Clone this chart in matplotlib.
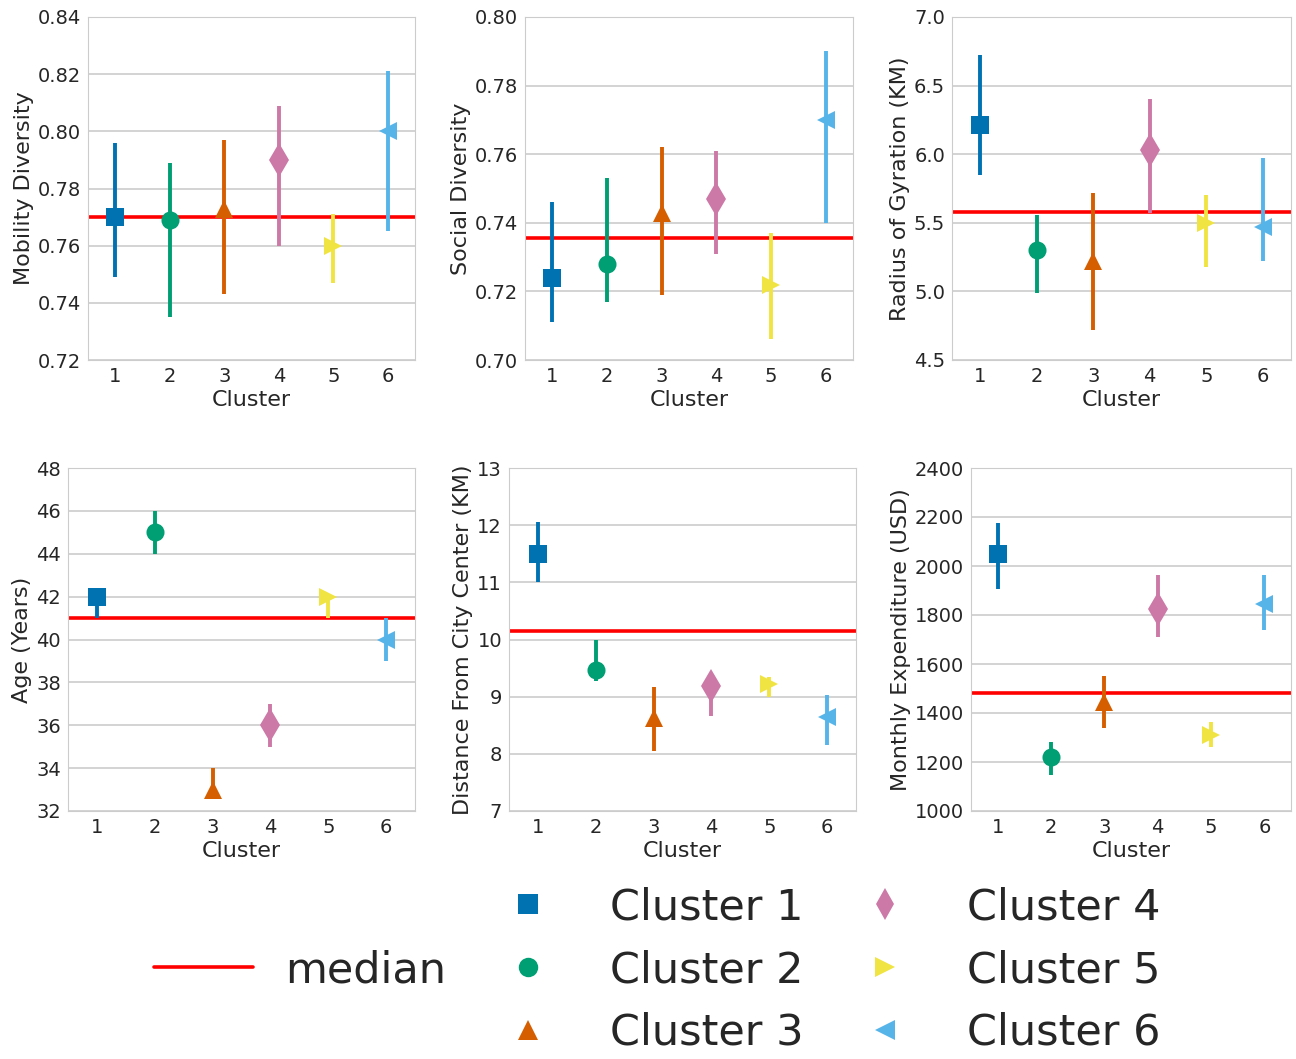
import matplotlib
matplotlib.use("Agg")
import matplotlib.pyplot as plt
from matplotlib.lines import Line2D
import seaborn as sns

sns.set_style("whitegrid")
plt.rcParams["font.family"] = ["DejaVu Sans"]

clusters = [1, 2, 3, 4, 5, 6]
colors = ["#0072B2", "#009E73", "#D55E00", "#CC79A7", "#F0E442", "#56B4E9"]
markers = ["s", "o", "^", "d", ">", "<"]
msizes = [13, 13, 13, 17, 13, 13]

# per panel: label, ylim, yticks, median, means, lower ci, upper ci
mob_mean = [0.770, 0.769, 0.773, 0.790, 0.760, 0.800]
mob_lo = [0.749, 0.735, 0.743, 0.760, 0.747, 0.765]
mob_hi = [0.796, 0.789, 0.797, 0.809, 0.771, 0.821]

soc_mean = [0.724, 0.728, 0.743, 0.747, 0.722, 0.770]
soc_lo = [0.711, 0.717, 0.719, 0.731, 0.706, 0.740]
soc_hi = [0.746, 0.753, 0.762, 0.761, 0.737, 0.790]

rog_mean = [6.21, 5.30, 5.22, 6.03, 5.50, 5.47]
rog_lo = [5.85, 4.99, 4.72, 5.57, 5.18, 5.22]
rog_hi = [6.72, 5.56, 5.72, 6.40, 5.70, 5.97]

age_mean = [42.0, 45.0, 33.0, 36.0, 42.0, 40.0]
age_lo = [41.0, 44.0, 33.0, 35.0, 41.0, 39.0]
age_hi = [42.0, 46.0, 34.0, 37.0, 42.0, 41.0]

dist_mean = [11.5, 9.47, 8.63, 9.18, 9.22, 8.65]
dist_lo = [11.0, 9.28, 8.05, 8.67, 9.00, 8.15]
dist_hi = [12.05, 10.0, 9.17, 9.40, 9.35, 9.03]

exp_mean = [2050, 1220, 1445, 1825, 1310, 1845]
exp_lo = [1905, 1145, 1340, 1710, 1260, 1740]
exp_hi = [2175, 1280, 1550, 1965, 1365, 1965]

panels = [
    ("Mobility Diversity", (0.72, 0.84), [0.72, 0.74, 0.76, 0.78, 0.80, 0.82, 0.84], 0.770,
     mob_mean, mob_lo, mob_hi, "{:.2f}"),
    ("Social Diversity", (0.70, 0.80), [0.70, 0.72, 0.74, 0.76, 0.78, 0.80], 0.7355,
     soc_mean, soc_lo, soc_hi, "{:.2f}"),
    ("Radius of Gyration (KM)", (4.5, 7.0), [4.5, 5.0, 5.5, 6.0, 6.5, 7.0], 5.58,
     rog_mean, rog_lo, rog_hi, "{:.1f}"),
    ("Age (Years)", (32, 48), [32, 34, 36, 38, 40, 42, 44, 46, 48], 41.0,
     age_mean, age_lo, age_hi, "{:.0f}"),
    ("Distance From City Center (KM)", (7, 13), [7, 8, 9, 10, 11, 12, 13], 10.15,
     dist_mean, dist_lo, dist_hi, "{:.0f}"),
    ("Monthly Expenditure (USD)", (1000, 2400), [1000, 1200, 1400, 1600, 1800, 2000, 2200, 2400], 1483,
     exp_mean, exp_lo, exp_hi, "{:.0f}"),
]

W, H = 1296, 1059
# axes boxes in pixels: left, top, right, bottom
boxes = [
    (88, 17, 415, 360), (525, 17, 853, 360), (952, 17, 1291, 360),
    (68, 468, 415, 811), (509, 468, 856, 811), (971, 468, 1291, 811),
]

fig = plt.figure(figsize=(W / 100, H / 100), dpi=100)
text_col = "#262626"

for (label, ylim, yticks, med, mean, lo, hi, fmt), (l, t, r, b) in zip(panels, boxes):
    ax = fig.add_axes([l / W, 1 - b / H, (r - l) / W, (b - t) / H])
    ax.axhline(med, color="red", lw=2.6, zorder=2)
    for i, c in enumerate(clusters):
        ax.plot([c, c], [lo[i], hi[i]], color=colors[i], lw=2.8, zorder=3,
                solid_capstyle="butt")
        ax.plot(c, mean[i], marker=markers[i], color=colors[i], markersize=msizes[i],
                markeredgewidth=0, zorder=4, linestyle="none")
    ax.set_xlim(0.5, 6.5)
    ax.set_ylim(*ylim)
    ax.set_xticks(clusters)
    ax.set_yticks(yticks)
    ax.set_yticklabels([fmt.format(v) for v in yticks])
    ax.grid(axis="x", visible=False)
    ax.grid(axis="y", color="#cccccc", lw=1.2)
    for s in ax.spines.values():
        s.set_color("#cccccc")
    ax.tick_params(labelsize=14, colors=text_col, length=0, pad=5)
    ax.set_xlabel("Cluster", fontsize=16, color=text_col, labelpad=3)
    ax.set_ylabel(label, fontsize=16, color=text_col, labelpad=3)

blank = Line2D([], [], linestyle="none")
median_h = Line2D([], [], color="red", lw=2.6)
leg_sizes = [14, 14, 14, 16, 14, 14]
cl_h = [Line2D([], [], marker=m, color=col, linestyle="none", markersize=ms, markeredgewidth=0)
        for m, col, ms in zip(markers, colors, leg_sizes)]
handles = [blank, median_h, blank] + cl_h
labels = ["", "median", ""] + ["Cluster %d" % c for c in clusters]
leg = fig.legend(handles, labels, ncol=3, loc="center", bbox_to_anchor=(0.507, 0.084),
                 fontsize=31, frameon=False, handlelength=2.3, handletextpad=0.75,
                 columnspacing=0.75, labelspacing=0.48)
for txt in leg.get_texts():
    txt.set_color(text_col)

fig.savefig("out.png", dpi=100)
